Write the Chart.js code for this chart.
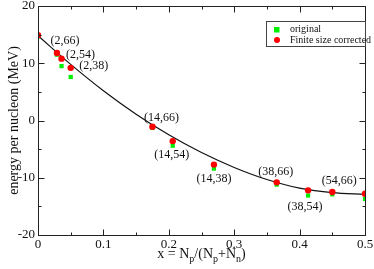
<!DOCTYPE html>
<html>
<head>
<meta charset="UTF-8">
<title>energy per nucleon</title>
<script src="https://cdn.jsdelivr.net/npm/chart.js"></script>
<style>
  html, body { margin: 0; padding: 0; background: #fff; }
  #wrap { width: 374px; height: 269px; }
</style>
</head>
<body>
<div id="wrap"><canvas id="chart"></canvas></div>
<script>
// proton fraction of each nucleus
const xValues = [0, 0.029, 0.036, 0.05, 0.175, 0.206, 0.269, 0.365, 0.413, 0.45, 0.5];
// energy per nucleon (MeV)
const originalE = [14.7, 11.5, 9.5, 7.6, -1.3, -4.4, -8.4, -11.2, -13.1, -12.9, -13.7];
const correctedE = [14.9, 11.8, 10.8, 9.2, -1.1, -3.6, -7.7, -10.8, -12.2, -12.5, -12.8];
// (Np,Nn) labels next to the points
const pointLabels = ['', '(2,66)', '(2,54)', '(2,38)', '(14,66)', '(14,54)', '(14,38)', '(38,66)', '(38,54)', '(54,66)', ''];
// fitted curve
const fitX = [0, 0.05, 0.1, 0.15, 0.2, 0.25, 0.3, 0.35, 0.4, 0.45, 0.5];
const fitE = [14.8, 9.8, 5.2, 1.1, -2.5, -5.6, -8.2, -10.3, -11.8, -12.6, -12.9];

// label offsets from the red point, in pixels
const labelOffsets = [null, [8, -12], [19, -4], [23, -2], [9, -9], [-1, 14], [0, 14], [-1, -10], [-3, 16], [7, -11], null];

const SERIF = '"Liberation Serif", "DejaVu Serif", serif';

const framePlugin = {
    id: 'frame',
    afterDraw(chart) {
        const { ctx, chartArea: a, scales: { x, y } } = chart;
        const L = Math.round(a.left) + 0.5, R = Math.round(a.right) + 0.5;
        const T = Math.round(a.top) + 0.5, B = Math.round(a.bottom) + 0.5;
        ctx.save();
        ctx.strokeStyle = '#222';
        ctx.lineWidth = 1;
        ctx.strokeRect(L, T, R - L, B - T);
        ctx.beginPath();
        x.ticks.forEach(t => {
            const px = Math.round(x.getPixelForValue(t.value)) + 0.5;
            const len = t.label !== '' ? 6 : 3;
            ctx.moveTo(px, B); ctx.lineTo(px, B - len);
            ctx.moveTo(px, T); ctx.lineTo(px, T + len);
        });
        y.ticks.forEach(t => {
            const py = Math.round(y.getPixelForValue(t.value)) + 0.5;
            const len = t.label !== '' ? 6 : 3;
            ctx.moveTo(L, py); ctx.lineTo(L + len, py);
            ctx.moveTo(R, py); ctx.lineTo(R - len, py);
        });
        ctx.stroke();

        // point labels
        const meta = chart.getDatasetMeta(0);
        ctx.fillStyle = '#111';
        ctx.font = '12px ' + SERIF;
        ctx.textAlign = 'center';
        ctx.textBaseline = 'middle';
        pointLabels.forEach((lab, i) => {
            if (!lab) return;
            const el = meta.data[i];
            const off = labelOffsets[i];
            ctx.fillText(lab, el.x + off[0], el.y + off[1]);
        });

        // x axis title with subscripts
        const parts = [['x = N', 0], ['p', 1], ['/(N', 0], ['p', 1], ['+N', 0], ['n', 1], [')', 0]];
        const big = '14px ' + SERIF, small = '10px ' + SERIF;
        let w = 0;
        parts.forEach(p => { ctx.font = p[1] ? small : big; w += ctx.measureText(p[0]).width; });
        let cx = (a.left + a.right) / 2 - w / 2;
        ctx.textAlign = 'left';
        ctx.textBaseline = 'alphabetic';
        parts.forEach(p => {
            ctx.font = p[1] ? small : big;
            ctx.fillText(p[0], cx, p[1] ? 262 : 258);
            cx += ctx.measureText(p[0]).width;
        });

        // legend box
        ctx.fillStyle = '#fff';
        ctx.fillRect(266.5, 21.5, R - 266.5, 25);
        ctx.strokeStyle = '#444';
        ctx.strokeRect(266.5, 21.5, R - 266.5, 25);
        ctx.fillStyle = '#00ee00';
        ctx.fillRect(274, 27, 5.5, 5.5);
        ctx.fillStyle = '#ff0000';
        ctx.beginPath();
        ctx.arc(277, 40, 3, 0, Math.PI * 2);
        ctx.fill();
        ctx.fillStyle = '#111';
        ctx.font = '10px ' + SERIF;
        ctx.textBaseline = 'middle';
        ctx.fillText('original', 290, 29.5);
        ctx.fillText('Finite size corrected', 290, 40.5);
        ctx.restore();
    }
};

const toPts = (xs, ys) => xs.map((v, i) => ({ x: v, y: ys[i] }));

new Chart(document.getElementById('chart'), {
    type: 'scatter',
    data: {
        datasets: [
            {
                label: 'Finite size corrected',
                data: toPts(xValues, correctedE),
                pointStyle: 'circle',
                pointRadius: 3.2,
                backgroundColor: '#ff0000',
                borderColor: '#ff0000',
                borderWidth: 0,
                order: 0
            },
            {
                label: 'original',
                data: toPts(xValues, originalE),
                pointStyle: 'rect',
                pointRadius: 3,
                backgroundColor: '#00ee00',
                borderColor: '#00ee00',
                borderWidth: 0,
                order: 1
            },
            {
                label: 'fit',
                type: 'line',
                data: toPts(fitX, fitE),
                borderColor: '#111',
                borderWidth: 1.2,
                pointRadius: 0,
                fill: false,
                cubicInterpolationMode: 'monotone',
                order: 2
            }
        ]
    },
    options: {
        responsive: true,
        maintainAspectRatio: false,
        animation: false,
        layout: { padding: 0 },
        plugins: {
            legend: { display: false },
            tooltip: { enabled: false }
        },
        scales: {
            x: {
                type: 'linear',
                min: 0, max: 0.5,
                grid: { display: false, drawTicks: false },
                border: { display: false },
                ticks: {
                    stepSize: 0.05,
                    autoSkip: false,
                    maxRotation: 0,
                    padding: 3,
                    color: '#111',
                    font: { family: SERIF, size: 13, lineHeight: 1 },
                    callback: v => Math.round(v * 20) % 2 === 0 ? (v === 0 ? '0' : v.toFixed(1)) : ''
                },
                afterFit: s => { s.height = 34; s.paddingLeft = 0; s.paddingRight = 9; }
            },
            y: {
                min: -20, max: 20,
                grid: { display: false, drawTicks: false },
                border: { display: false },
                ticks: {
                    stepSize: 5,
                    autoSkip: false,
                    padding: 3,
                    color: '#111',
                    font: { family: SERIF, size: 13, lineHeight: 1 },
                    callback: v => v % 10 === 0 ? String(v) : ''
                },
                title: {
                    display: true,
                    text: 'energy per nucleon (MeV)',
                    color: '#111',
                    font: { family: SERIF, size: 14 },
                    padding: { top: 6, bottom: 0 }
                },
                afterFit: s => { s.width = 38; s.paddingTop = 6; s.paddingBottom = 0; }
            }
        }
    },
    plugins: [framePlugin]
});
</script>
</body>
</html>
